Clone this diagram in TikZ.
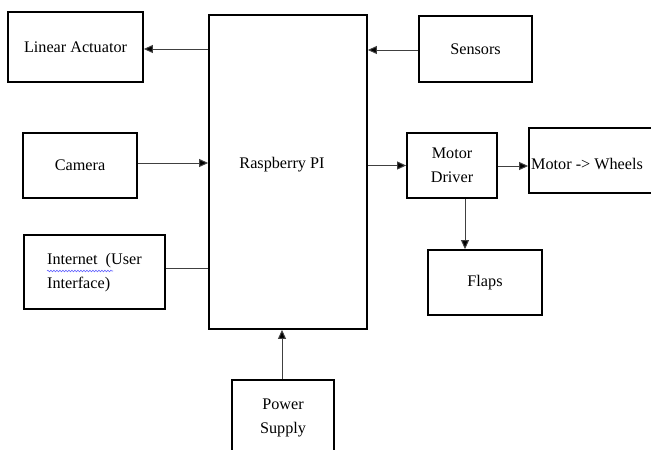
\documentclass[tikz,border=0pt]{standalone}
\usepackage{fontspec}
\setmainfont{Liberation Serif}
\usetikzlibrary{arrows.meta,decorations.pathmorphing}
\begin{document}
\begin{tikzpicture}[x=1pt,y=-1pt,
  box/.style={draw=black,line width=1.8pt,inner sep=0pt,font=\fontsize{16.2}{24}\selectfont,align=center},
  arr/.style={draw=black!75,line width=1pt,-{Triangle[length=9pt,width=8pt,fill=black]}},
  plain/.style={draw=black!75,line width=1pt}]
\clip (0,0) rectangle (651,450);
\fill[white] (0,0) rectangle (651,450);
\node[box,minimum width=135pt,minimum height=70pt] (la) at (75.5,47) {Linear Actuator};
\node[box,minimum width=158pt,minimum height=314pt] (pi) at (288,172) {};
\node[font=\fontsize{16.2}{24}\selectfont] (pitext) at (282,165) {Raspberry PI};
\node[box,minimum width=113pt,minimum height=66pt] (sens) at (475.5,49) {Sensors};
\node[box,minimum width=114pt,minimum height=65pt] (cam) at (80,165.5) {Camera};
\node[box,minimum width=141pt,minimum height=74pt] (inet) at (94.5,272) {};
\node[font=\fontsize{16.2}{24}\selectfont,align=left,anchor=west,inner sep=0pt] (inettext) at (47,273) {Internet~ (User\\Interface)};
\node[box,minimum width=90pt,minimum height=65pt] (md) at (452,165.5) {Motor\\Driver};
\node[box,minimum width=130pt,minimum height=65pt] (mw) at (594,160.5) {};
\node[font=\fontsize{16.2}{24}\selectfont,anchor=west,inner sep=0pt] (mwtext) at (531,164) {Motor -> Wheels};
\node[box,minimum width=114pt,minimum height=65pt] (flaps) at (485,282.5) {Flaps};
\node[box,minimum width=102pt,minimum height=76pt] (ps) at (283,418) {Power\\Supply};
% wavy spell-check underline
\draw[blue!60,line width=0.6pt,decorate,decoration={snake,amplitude=0.8pt,segment length=3pt}] (47,271) -- (113,271);
% connectors
\draw[arr] ([yshift=-2pt]la.east -| pi.west) -- ([yshift=-2pt]la.east);
\draw[arr] ([yshift=-1pt]sens.west) -- ([yshift=-1pt]sens.west -| pi.east);
\draw[arr] ([yshift=2.5pt]cam.east) -- ([yshift=2.5pt]cam.east -| pi.west);
\draw[plain] ([yshift=4pt]inet.east) -- ([yshift=4pt]inet.east -| pi.west);
\draw[arr] (md.west -| pi.east) -- (md.west);
\draw[arr] ([yshift=-0.5pt]md.east) -- ([yshift=-0.5pt]md.east -| mw.west);
\draw[arr] ([xshift=13pt]md.south) -- ([xshift=13pt]md.south |- flaps.north);
\draw[arr] ([xshift=-1pt]ps.north) -- ([xshift=-1pt]ps.north |- pi.south);
\end{tikzpicture}
\end{document}
